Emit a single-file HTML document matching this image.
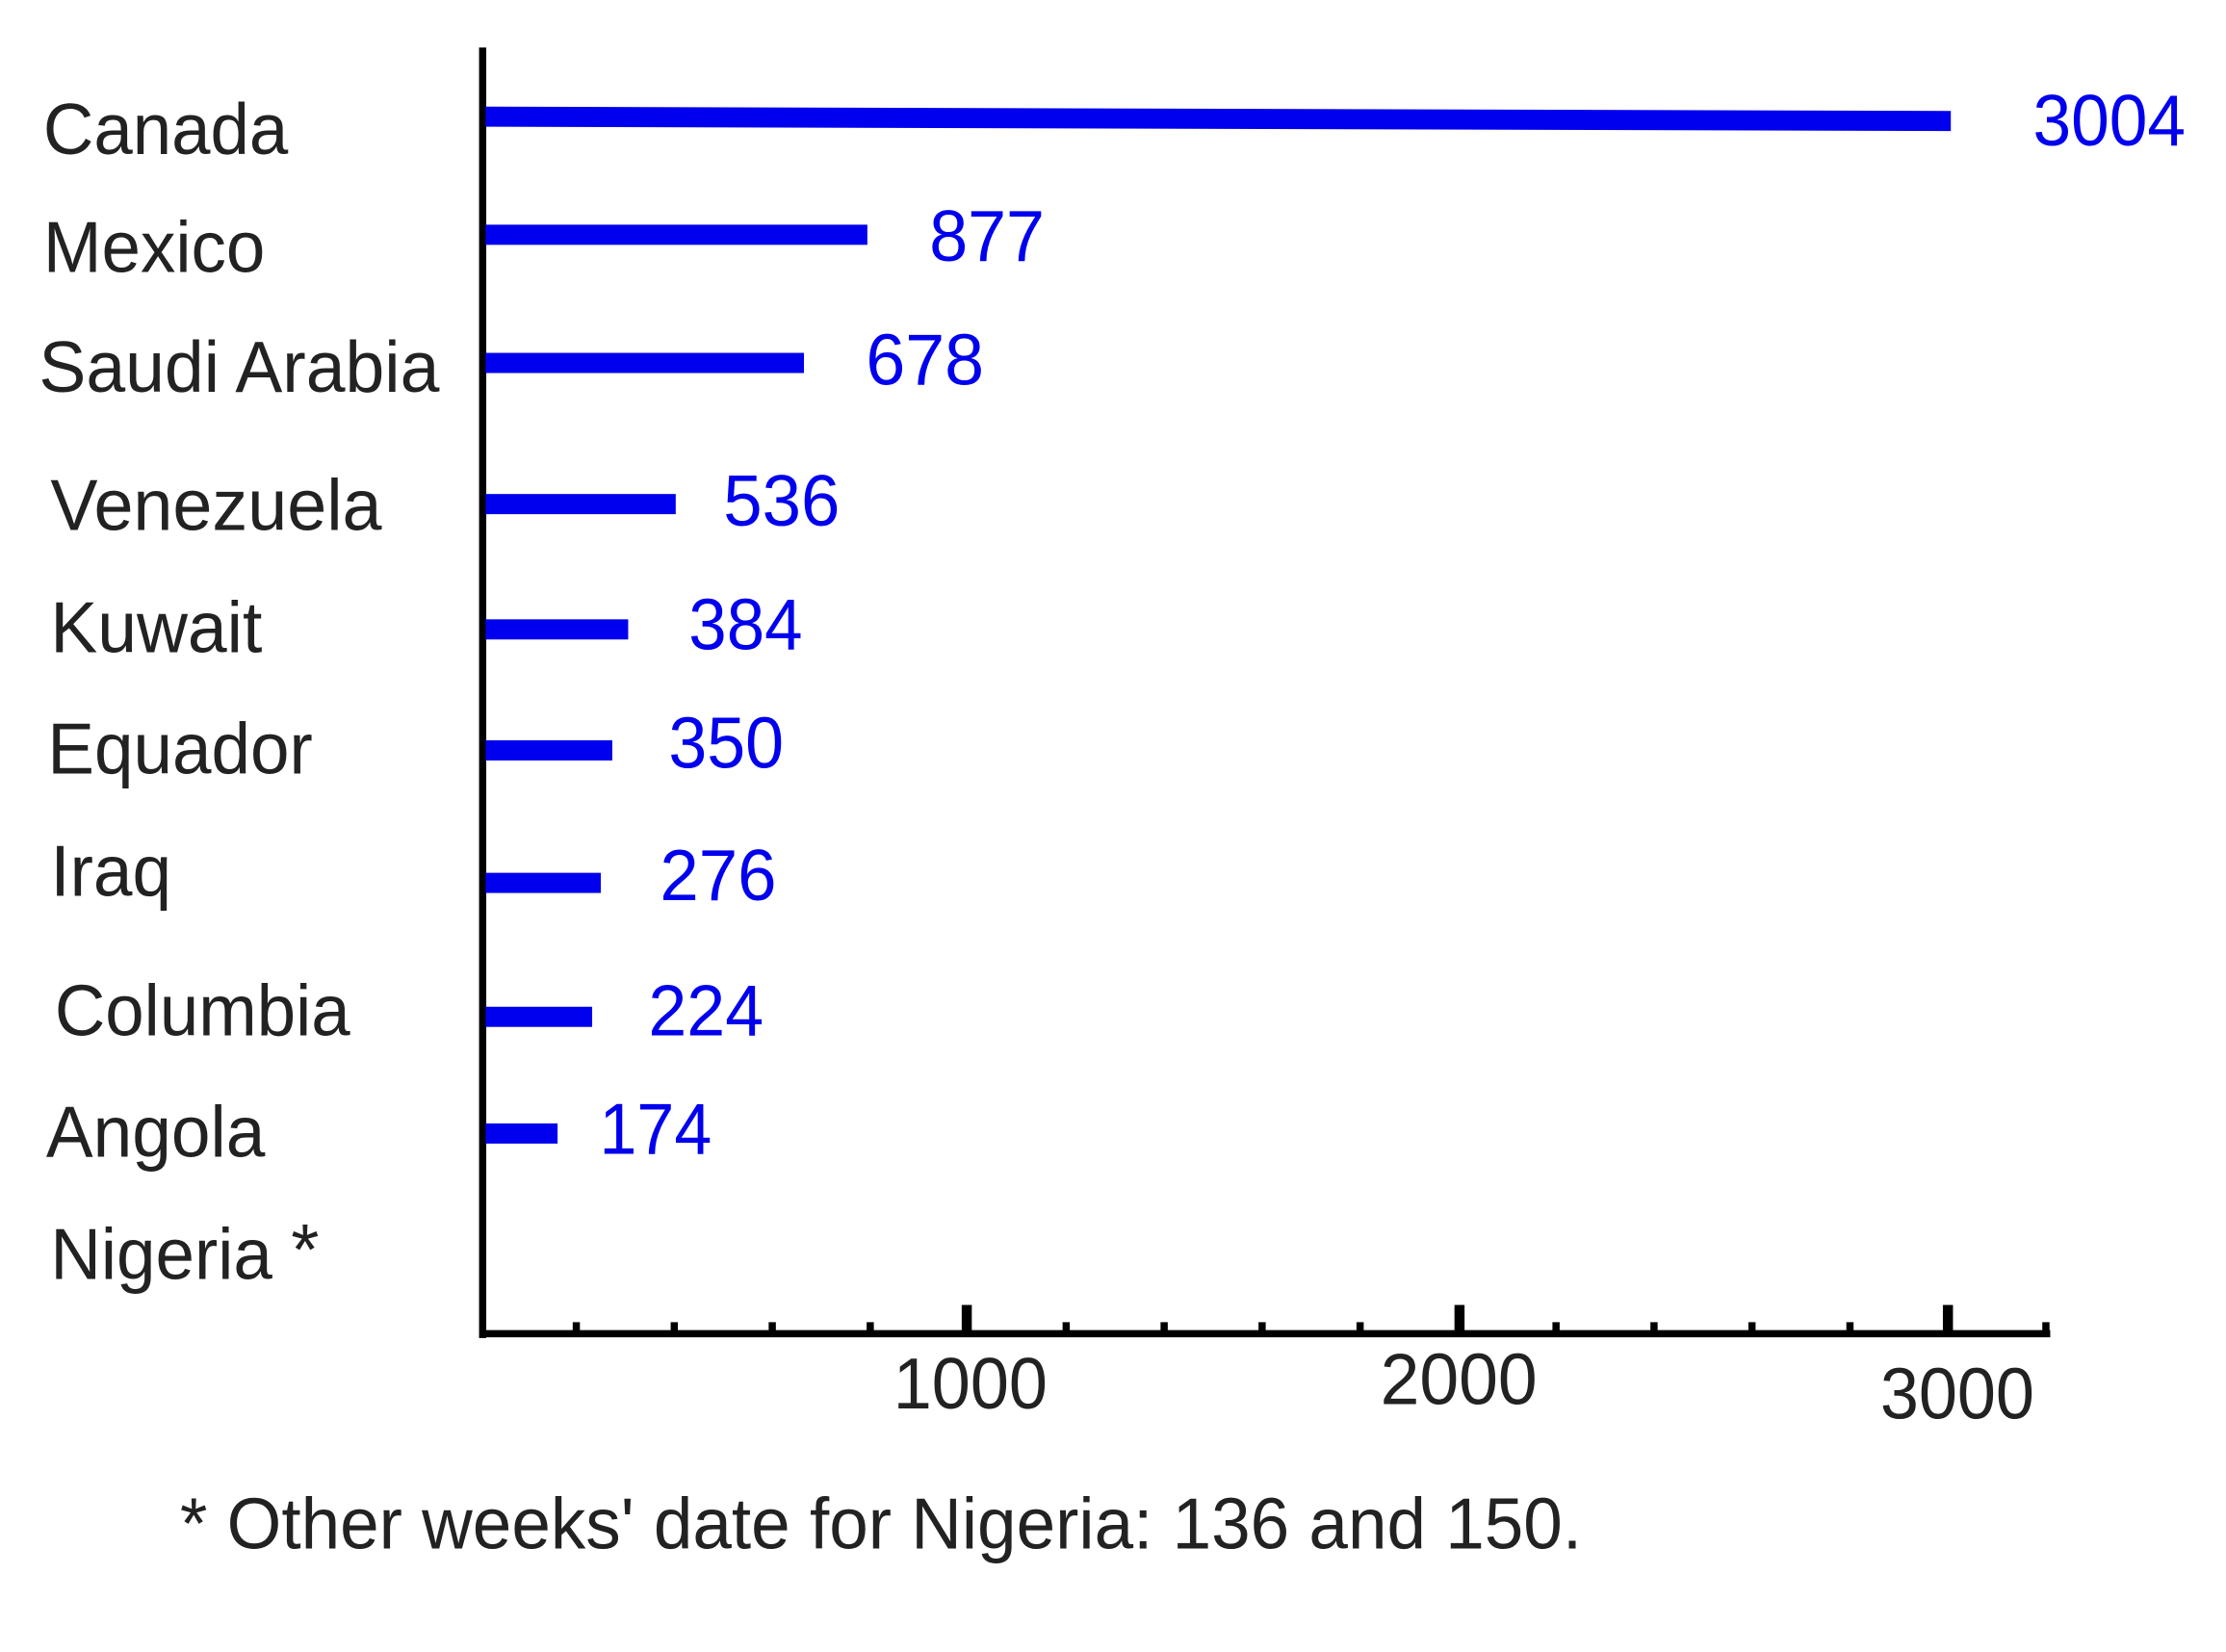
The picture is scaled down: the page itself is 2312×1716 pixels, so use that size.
<!DOCTYPE html>
<html><head><meta charset="utf-8"><style>html,body{margin:0;padding:0;background:#fff}svg{display:block}</style></head>
<body>
<svg width="2312" height="1716" viewBox="0 0 1545 1147" preserveAspectRatio="none" xmlns="http://www.w3.org/2000/svg" font-family="Liberation Sans, Arial, sans-serif">
<rect width="1545" height="1147" fill="#fff"/>
<g stroke="#000" stroke-width="5">
<line x1="335" y1="33" x2="335" y2="929"/>
<line x1="333" y1="926" x2="1423" y2="926"/>
</g>
<g stroke="#000" stroke-width="5">
<line x1="400" y1="918" x2="400" y2="926"/><line x1="468" y1="918" x2="468" y2="926"/><line x1="536" y1="918" x2="536" y2="926"/><line x1="604" y1="918" x2="604" y2="926"/>
<line x1="740" y1="918" x2="740" y2="926"/><line x1="808" y1="918" x2="808" y2="926"/><line x1="876" y1="918" x2="876" y2="926"/><line x1="944" y1="918" x2="944" y2="926"/>
<line x1="1080" y1="918" x2="1080" y2="926"/><line x1="1148" y1="918" x2="1148" y2="926"/><line x1="1216" y1="918" x2="1216" y2="926"/><line x1="1284" y1="918" x2="1284" y2="926"/><line x1="1420" y1="918" x2="1420" y2="926"/>
</g>
<g stroke="#000" stroke-width="7">
<line x1="671" y1="906" x2="671" y2="926"/><line x1="1013" y1="906" x2="1013" y2="926"/><line x1="1352" y1="906" x2="1352" y2="926"/>
</g>
<g fill="#0000ee">
<polygon points="337,74 1354,77 1354,91 337,88"/>
<rect x="337" y="156" width="265" height="14"/>
<rect x="337" y="245" width="221" height="14"/>
<rect x="337" y="343" width="132" height="14"/>
<rect x="337" y="430" width="99" height="14"/>
<rect x="337" y="514" width="88" height="14"/>
<rect x="337" y="606" width="80" height="14"/>
<rect x="337" y="699" width="74" height="14"/>
<rect x="337" y="780" width="50" height="14"/>
</g>
<g fill="#222" font-size="50">
<text x="30" y="107" textLength="170" lengthAdjust="spacingAndGlyphs">Canada</text>
<text x="30" y="189" textLength="154" lengthAdjust="spacingAndGlyphs">Mexico</text>
<text x="27" y="272" textLength="278" lengthAdjust="spacingAndGlyphs">Saudi Arabia</text>
<text x="35" y="368" textLength="230" lengthAdjust="spacingAndGlyphs">Venezuela</text>
<text x="35" y="453" textLength="147" lengthAdjust="spacingAndGlyphs">Kuwait</text>
<text x="33" y="537" textLength="184" lengthAdjust="spacingAndGlyphs">Equador</text>
<text x="35" y="622" textLength="84" lengthAdjust="spacingAndGlyphs">Iraq</text>
<text x="38" y="719" textLength="205" lengthAdjust="spacingAndGlyphs">Columbia</text>
<text x="32" y="803" textLength="152" lengthAdjust="spacingAndGlyphs">Angola</text>
<text x="35" y="888" textLength="154" lengthAdjust="spacingAndGlyphs">Nigeria</text>
<text x="202" y="885" font-size="50">*</text>
<text x="620" y="978" textLength="107" lengthAdjust="spacingAndGlyphs">1000</text>
<text x="958" y="975" textLength="109" lengthAdjust="spacingAndGlyphs">2000</text>
<text x="1305" y="985" textLength="107" lengthAdjust="spacingAndGlyphs">3000</text>
<text x="125" y="1075" textLength="973" lengthAdjust="spacingAndGlyphs">* Other weeks' date for Nigeria: 136 and 150.</text>
</g>
<g fill="#0000ee" font-size="50">
<text x="1411" y="101" textLength="106" lengthAdjust="spacingAndGlyphs">3004</text>
<text x="645" y="181" textLength="80" lengthAdjust="spacingAndGlyphs">877</text>
<text x="601" y="267" textLength="82" lengthAdjust="spacingAndGlyphs">678</text>
<text x="502" y="365" textLength="81" lengthAdjust="spacingAndGlyphs">536</text>
<text x="478" y="451" textLength="79" lengthAdjust="spacingAndGlyphs">384</text>
<text x="464" y="533" textLength="80" lengthAdjust="spacingAndGlyphs">350</text>
<text x="458" y="625" textLength="81" lengthAdjust="spacingAndGlyphs">276</text>
<text x="450" y="719" textLength="80" lengthAdjust="spacingAndGlyphs">224</text>
<text x="416" y="801" textLength="78" lengthAdjust="spacingAndGlyphs">174</text>
</g>
</svg>
</body></html>
